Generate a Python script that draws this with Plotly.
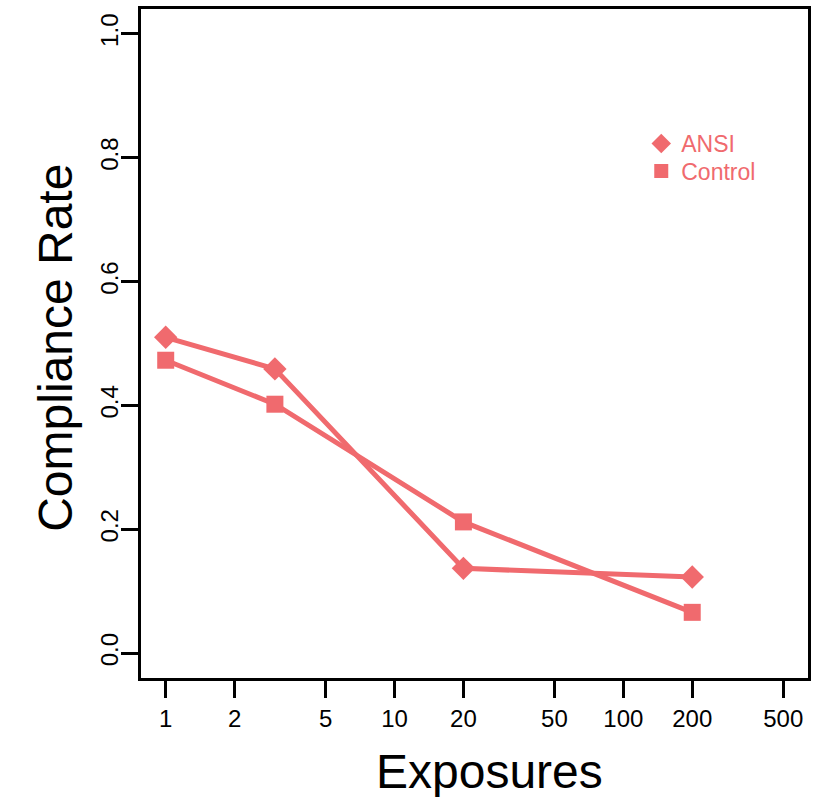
import plotly.graph_objects as go

exposures = [1, 3, 20, 200]
ansi = [0.51, 0.459, 0.137, 0.123]
control = [0.473, 0.402, 0.212, 0.066]
series_names = ["ANSI", "Control"]
x_ticks = [1, 2, 5, 10, 20, 50, 100, 200, 500]
y_ticks = [0.0, 0.2, 0.4, 0.6, 0.8, 1.0]

COL = "#F06A6E"
FONT = "Liberation Sans, Arial, Helvetica, sans-serif"

fig = go.Figure()
fig.add_trace(go.Scatter(x=exposures, y=ansi, mode="lines+markers", showlegend=False,
                         line=dict(color=COL, width=5),
                         marker=dict(symbol="diamond", size=18, color=COL)))
fig.add_trace(go.Scatter(x=exposures, y=control, mode="lines+markers", showlegend=False,
                         line=dict(color=COL, width=5),
                         marker=dict(symbol="square", size=17, color=COL)))
# legend entries (markers only)
fig.add_trace(go.Scatter(x=[None], y=[None], mode="markers", name=series_names[0],
                         legend="legend",
                         marker=dict(symbol="diamond", size=15, color=COL)))
fig.add_trace(go.Scatter(x=[None], y=[None], mode="markers", name=series_names[1],
                         legend="legend2",
                         marker=dict(symbol="square", size=14, color=COL)))

axis_common = dict(showline=True, linecolor="black", linewidth=2.5, mirror=True,
                   ticks="outside", ticklen=17, tickwidth=2.5, tickcolor="black",
                   showgrid=False, zeroline=False,
                   tickfont=dict(family=FONT, size=24, color="black"))

fig.update_xaxes(type="log", range=[-0.108, 2.807], tickvals=x_ticks,
                 ticktext=[str(v) for v in x_ticks], **axis_common)
fig.update_yaxes(range=[-0.04, 1.04], tickvals=y_ticks,
                 ticktext=[f"{v:.1f}" for v in y_ticks], tickangle=-90,
                 ticklabelstandoff=-6, **axis_common)

fig.add_annotation(text="Compliance Rate", xref="paper", yref="paper",
                   x=-0.128, y=0.493, xanchor="center", yanchor="middle",
                   textangle=-90, showarrow=False,
                   font=dict(family=FONT, size=48, color="black"))
fig.add_annotation(text="Exposures", xref="paper", yref="paper",
                   x=0.522, y=-0.14, xanchor="center", yanchor="middle",
                   showarrow=False,
                   font=dict(family=FONT, size=48, color="black"))

legend_common = dict(x=0.75, xanchor="left", yanchor="top",
                     bgcolor="rgba(0,0,0,0)",
                     font=dict(family=FONT, size=23, color=COL))
fig.update_layout(width=816, height=797,
                  margin=dict(l=141, r=5, t=9, b=119),
                  plot_bgcolor="white", paper_bgcolor="white",
                  legend=dict(y=0.831, **legend_common),
                  legend2=dict(y=0.790, **legend_common))

fig.write_html("out.html")
